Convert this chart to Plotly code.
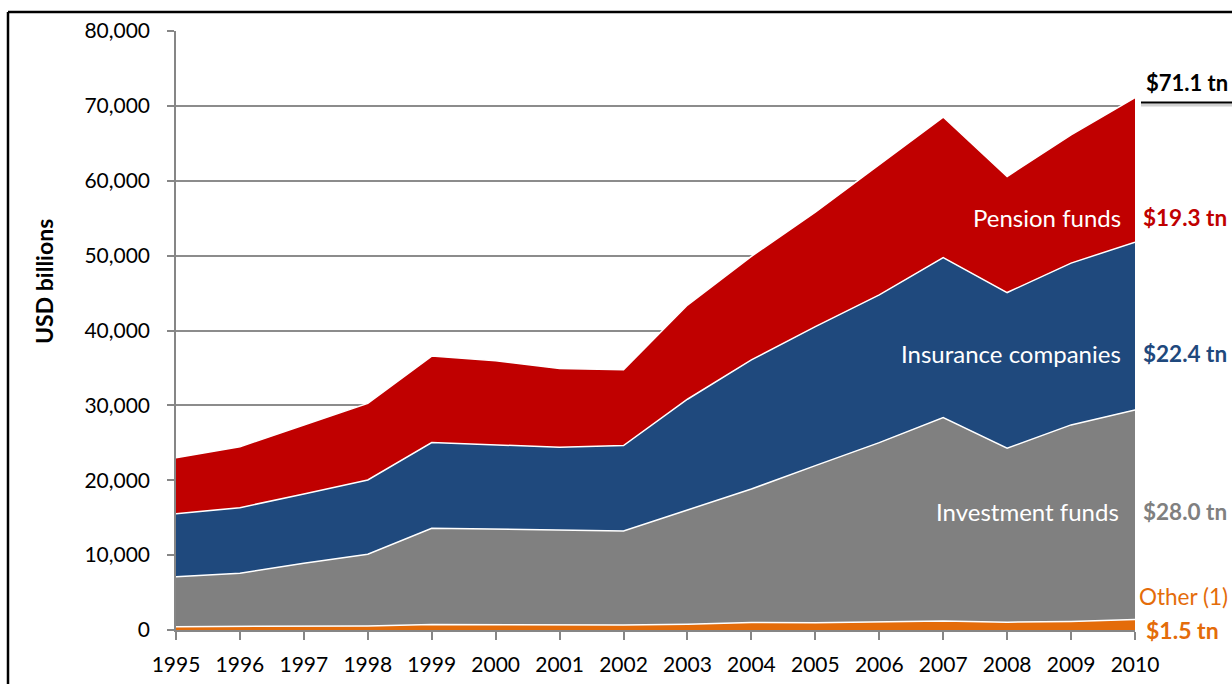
import plotly.graph_objects as go

years = list(range(1995, 2011))
other = [450, 470, 490, 550, 720, 680, 640, 660, 780, 1000, 960, 1100, 1200, 1050, 1150, 1400]
investment = [6670, 7110, 8420, 9560, 12870, 12770, 12720, 12570, 15250, 17840, 20990, 23930, 27170, 23230, 26240, 28000]
insurance = [8420, 8760, 9260, 9930, 11440, 11230, 11050, 11410, 14790, 17240, 18560, 19730, 21380, 20790, 21610, 22400]
pension = [7460, 8130, 9200, 10230, 11550, 11270, 10530, 10110, 12580, 13820, 15290, 17340, 18760, 15500, 17140, 19300]

series_names = ["Other (1)", "Investment funds", "Insurance companies", "Pension funds"]
series_values = [other, investment, insurance, pension]
series_colors = ["#E46C0A", "#808080", "#1F497D", "#C00000"]
end_labels = ["$1.5 tn", "$28.0 tn", "$22.4 tn", "$19.3 tn"]
total_label = "$71.1 tn"
y_ticks = [0, 10000, 20000, 30000, 40000, 50000, 60000, 70000, 80000]

FONT = "Lato"
W, H = 1232, 684
L, R, T, B = 176, 97, 31, 54
PW, PH = W - L - R, H - T - B

def px(x):
    return (x - L) / PW

def py(y):
    return (H - B - y) / PH

fig = go.Figure()
for name, vals, col in zip(series_names, series_values, series_colors):
    fig.add_trace(go.Scatter(
        x=years, y=vals, name=name, mode="lines", stackgroup="one",
        line=dict(color="white", width=1.5), fillcolor=col,
        hoverinfo="x+y+name",
    ))

annotations = [
    dict(text="Pension funds", x=px(1123), y=py(217), xanchor="right", font=dict(color="white", size=24)),
    dict(text="Insurance companies", x=px(1123), y=py(353), xanchor="right", font=dict(color="white", size=24)),
    dict(text="Investment funds", x=px(1121), y=py(511), xanchor="right", font=dict(color="white", size=24)),
    dict(text="<b>" + end_labels[3] + "</b>", x=px(1141), y=py(217), xanchor="left", font=dict(color="#C00000", size=22.5)),
    dict(text="<b>" + end_labels[2] + "</b>", x=px(1141), y=py(353), xanchor="left", font=dict(color="#1F497D", size=22.5)),
    dict(text="<b>" + end_labels[1] + "</b>", x=px(1141), y=py(511), xanchor="left", font=dict(color="#808080", size=22.5)),
    dict(text="Other (1)", x=px(1137), y=py(596), xanchor="left", font=dict(color="#E46C0A", size=22.5)),
    dict(text="<b>" + end_labels[0] + "</b>", x=px(1144), y=py(630), xanchor="left", font=dict(color="#E46C0A", size=23)),
    dict(text="<b>" + total_label + "</b>", x=px(1144), y=py(82), xanchor="left", font=dict(color="black", size=22)),
    dict(text="<b>USD billions</b>", x=px(28), y=py(282), textangle=-90, font=dict(color="black", size=23)),
]
for a in annotations:
    a.update(xref="paper", yref="paper", showarrow=False, yanchor="middle", font=dict(family=FONT, **a["font"]))

shapes = [
    dict(type="line", xref="paper", yref="paper", x0=px(8), x1=px(1240), y0=py(12), y1=py(12), line=dict(color="black", width=2.5)),
    dict(type="line", xref="paper", yref="paper", x0=px(8), x1=px(8), y0=py(12), y1=py(700), line=dict(color="black", width=2.5)),
    dict(type="line", xref="paper", yref="paper", x0=px(1141), x1=px(1240), y0=py(105), y1=py(105), line=dict(color="#D0D0D0", width=3)),
    dict(type="line", xref="paper", yref="paper", x0=px(1141), x1=px(1240), y0=py(102.5), y1=py(102.5), line=dict(color="black", width=2)),
]

fig.update_layout(
    width=W, height=H, autosize=False,
    margin=dict(l=L, r=R, t=T, b=B, pad=0),
    paper_bgcolor="white", plot_bgcolor="white",
    showlegend=False,
    font=dict(family=FONT, size=21, color="black"),
    annotations=annotations, shapes=shapes,
    xaxis=dict(
        range=[1995, 2010], tickvals=years, ticktext=[str(y) for y in years],
        showgrid=False, zeroline=False, showline=True, linecolor="#868686", linewidth=1.5,
        ticks="outside", ticklen=8, tickcolor="#868686", tickwidth=1.5,
        ticklabelstandoff=7, automargin=False,
        tickfont=dict(family=FONT, size=21, color="black"),
    ),
    yaxis=dict(
        range=[0, 80000], tickvals=y_ticks, tickformat=",d",
        showgrid=True, gridcolor="#8C8C8C", gridwidth=1.5, zeroline=False,
        showline=True, linecolor="#868686", linewidth=1.5,
        ticks="outside", ticklen=7, tickcolor="#868686", tickwidth=1.5,
        ticklabelstandoff=13, automargin=False,
        tickfont=dict(family=FONT, size=21, color="black"),
    ),
)

fig.write_html("out.html", config={"displayModeBar": False},
               post_script="document.body.style.margin='0';document.body.style.overflow='hidden';")
